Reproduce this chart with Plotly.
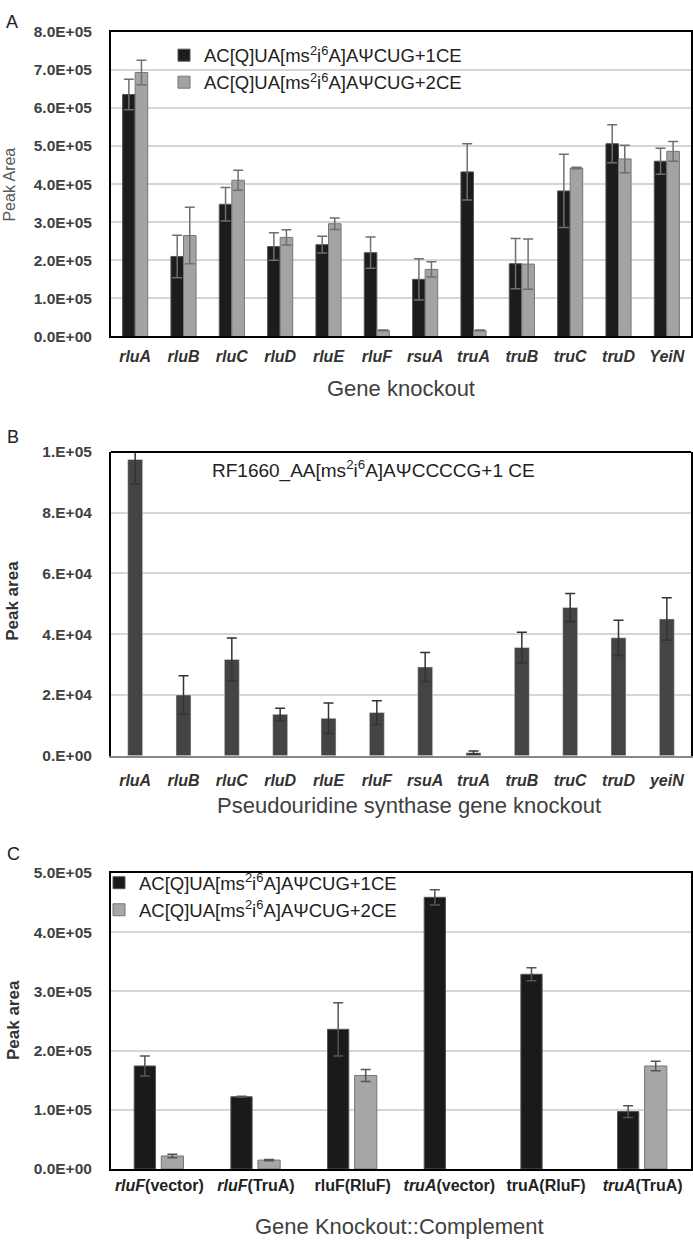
import plotly.graph_objects as go

# ---- panel A: Gene knockout, +1CE / +2CE ----
genes_a = ["rluA", "rluB", "rluC", "rluD", "rluE", "rluF",
           "rsuA", "truA", "truB", "truC", "truD", "YeiN"]
ce1_a = [6.35e5, 2.10e5, 3.47e5, 2.36e5, 2.41e5, 2.20e5,
         1.50e5, 4.32e5, 1.91e5, 3.82e5, 5.06e5, 4.60e5]
ce1_a_err = [0.40e5, 0.56e5, 0.44e5, 0.36e5, 0.22e5, 0.41e5,
             0.54e5, 0.74e5, 0.66e5, 0.96e5, 0.50e5, 0.34e5]
ce2_a = [6.93e5, 2.65e5, 4.10e5, 2.60e5, 2.96e5, 0.16e5,
         1.76e5, 0.16e5, 1.90e5, 4.42e5, 4.66e5, 4.86e5]
ce2_a_err = [0.32e5, 0.74e5, 0.26e5, 0.20e5, 0.15e5, 0.01e5,
             0.20e5, 0.01e5, 0.66e5, 0.02e5, 0.36e5, 0.26e5]
ticks_a = [0, 1e5, 2e5, 3e5, 4e5, 5e5, 6e5, 7e5, 8e5]

# ---- panel B: RF1660 +1 CE ----
genes_b = ["rluA", "rluB", "rluC", "rluD", "rluE", "rluF",
           "rsuA", "truA", "truB", "truC", "truD", "yeiN"]
rf_b = [9.75e4, 2.00e4, 3.17e4, 1.36e4, 1.23e4, 1.42e4,
        2.92e4, 0.10e4, 3.56e4, 4.88e4, 3.88e4, 4.50e4]
rf_b_err = [0.80e4, 0.63e4, 0.70e4, 0.20e4, 0.50e4, 0.39e4,
            0.48e4, 0.05e4, 0.50e4, 0.46e4, 0.58e4, 0.70e4]
ticks_b = [0, 2e4, 4e4, 6e4, 8e4, 1e5]

# ---- panel C: knockout::complement ----
strains_c = ["rluF(vector)", "rluF(TruA)", "rluF(RluF)",
             "truA(vector)", "truA(RluF)", "truA(TruA)"]
labels_c = ["<i>rluF</i>(vector)", "<i>rluF</i>(TruA)", "rluF(RluF)",
            "<i>truA</i>(vector)", "truA(RluF)", "<i>truA</i>(TruA)"]
ce1_c = [1.74e5, 1.22e5, 2.36e5, 4.59e5, 3.29e5, 0.97e5]
ce1_c_err = [0.17e5, 0.01e5, 0.45e5, 0.13e5, 0.11e5, 0.10e5]
ce2_c = [0.22e5, 0.15e5, 1.58e5, None, None, 1.74e5]
ce2_c_err = [0.03e5, 0.01e5, 0.10e5, 0, 0, 0.08e5]
ticks_c = [0, 1e5, 2e5, 3e5, 4e5, 5e5]

name_1ce = "AC[Q]UA[ms<sup>2</sup>i<sup>6</sup>A]AΨCUG+1CE"
name_2ce = "AC[Q]UA[ms<sup>2</sup>i<sup>6</sup>A]AΨCUG+2CE"

W, H = 693, 1247
FONT = "Liberation Sans, Arial, sans-serif"


def sci(v, d):
    s = f"{v:.{d}E}"
    if d == 0:
        s = s.replace("E", ".E")
    return s


def px(x):
    return x / W


def py(y):
    return 1 - y / H


fig = go.Figure()

# panel A
fig.add_trace(go.Bar(x=genes_a, y=ce1_a, name=name_1ce, xaxis="x", yaxis="y",
                     marker=dict(color="#1c1c1c", line=dict(color="#555", width=1)),
                     width=0.26, offset=-0.26,
                     error_y=dict(type="data", array=ce1_a_err, color="#6f6f6f",
                                  thickness=1.5, width=5),
                     legend="legend"))
fig.add_trace(go.Bar(x=genes_a, y=ce2_a, name=name_2ce, xaxis="x", yaxis="y",
                     marker=dict(color="#a3a3a3", line=dict(color="#777", width=1)),
                     width=0.26, offset=0.0,
                     error_y=dict(type="data", array=ce2_a_err, color="#6f6f6f",
                                  thickness=1.5, width=5),
                     legend="legend"))

# panel B
fig.add_trace(go.Bar(x=genes_b, y=rf_b, xaxis="x2", yaxis="y2", showlegend=False,
                     marker=dict(color="#444444"), width=0.31,
                     error_y=dict(type="data", array=rf_b_err, color="#333",
                                  thickness=1.5, width=5)))

# panel C
fig.add_trace(go.Bar(x=strains_c, y=ce1_c, name=name_1ce, xaxis="x3", yaxis="y3",
                     marker=dict(color="#1a1a1a", line=dict(color="#555", width=1)),
                     width=0.22, offset=-0.26,
                     error_y=dict(type="data", array=ce1_c_err, color="#555",
                                  thickness=1.5, width=5),
                     legend="legend2"))
fig.add_trace(go.Bar(x=strains_c, y=ce2_c, name=name_2ce, xaxis="x3", yaxis="y3",
                     marker=dict(color="#a6a6a6", line=dict(color="#777", width=1)),
                     width=0.23, offset=0.02,
                     error_y=dict(type="data", array=ce2_c_err, color="#555",
                                  thickness=1.5, width=5),
                     legend="legend2"))

xdom = [px(111), px(691)]
yfont = dict(family=FONT, size=15.5, color="#404040", weight="bold")
grid = dict(showgrid=True, gridcolor="#d6d6d6", gridwidth=1.5, zeroline=False)

fig.update_layout(
    width=W, height=H, barmode="overlay",
    margin=dict(l=0, r=0, t=0, b=0),
    paper_bgcolor="white", plot_bgcolor="white",
    font=dict(family=FONT, color="#222"),
    xaxis=dict(domain=xdom, anchor="y", showline=True, mirror=True, linecolor="black",
               linewidth=2, tickfont=dict(family=FONT, size=16, color="#333",
                                          weight="bold", style="italic"),
               ticklabelstandoff=4, showgrid=False),
    yaxis=dict(domain=[py(332), py(23)], anchor="x", range=[0, 8e5],
               tickmode="array", tickvals=ticks_a, ticktext=[sci(v, 1) for v in ticks_a],
               showline=True, mirror=True, linecolor="black", linewidth=2,
               tickfont=yfont, ticklabelstandoff=14, **grid),
    xaxis2=dict(domain=xdom, anchor="y2", showline=True, linecolor="#888", linewidth=2,
                tickfont=dict(family=FONT, size=16, color="#333",
                              weight="bold", style="italic"),
                ticklabelstandoff=9, showgrid=False),
    yaxis2=dict(domain=[py(757), py(449)], anchor="x2", range=[0, 1e5],
                tickmode="array", tickvals=ticks_b, ticktext=[sci(v, 0) for v in ticks_b],
                showline=True, mirror=True, linecolor="black", linewidth=2,
                tickfont=yfont, ticklabelstandoff=14, **grid),
    xaxis3=dict(domain=xdom, anchor="y3", showline=True, mirror=True, linecolor="black",
                linewidth=2, tickmode="array", tickvals=strains_c, ticktext=labels_c,
                tickfont=dict(family=FONT, size=16, color="#222", weight="bold"),
                ticklabelstandoff=1, showgrid=False),
    yaxis3=dict(domain=[py(1176), py(876)], anchor="x3", range=[0, 5e5],
                tickmode="array", tickvals=ticks_c, ticktext=[sci(v, 1) for v in ticks_c],
                showline=True, mirror=True, linecolor="black", linewidth=2,
                tickfont=yfont, ticklabelstandoff=14, **grid),
    legend=dict(x=px(164), y=py(28), xanchor="left", yanchor="top",
                font=dict(family=FONT, size=18.5, color="#222"),
                bgcolor="rgba(0,0,0,0)", itemwidth=30),
    legend2=dict(x=px(99), y=py(867), xanchor="left", yanchor="top",
                 font=dict(family=FONT, size=18.5, color="#222"),
                 bgcolor="rgba(0,0,0,0)", itemwidth=30),
)

# top border of panel B
fig.add_shape(type="line", xref="x2 domain", yref="y2 domain", x0=0, x1=1, y0=1, y1=1,
              line=dict(color="black", width=2))

ann = [
    ("A", 12, 13, 18, "#222", 0),
    ("B", 13, 434, 18, "#222", 0),
    ("C", 13, 857, 18, "#222", 0),
    ("Peak Area", 10, 178, 16, "#595959", -90),
    ("<b>Peak area</b>", 13, 600, 17, "#333", -90),
    ("<b>Peak area</b>", 13, 1025, 17, "#333", -90),
    ("Gene knockout", 401, 385, 22, "#404040", 0),
    ("Pseudouridine synthase gene knockout", 409, 808, 22, "#404040", 0),
    ("Gene Knockout::Complement", 399, 1234, 22, "#404040", 0),
]
for text, x, y, size, color, angle in ann:
    fig.add_annotation(text=text, x=px(x), y=py(y), xref="paper", yref="paper",
                       xanchor="center", yanchor="middle", showarrow=False,
                       textangle=angle, font=dict(family=FONT, size=size, color=color))

fig.add_annotation(text="RF1660_AA[ms<sup>2</sup>i<sup>6</sup>A]AΨCCCCG+1 CE",
                   x=px(210), y=py(467), xref="paper", yref="paper",
                   xanchor="left", yanchor="middle", showarrow=False,
                   font=dict(family=FONT, size=19, color="#222"))

fig.write_html("out.html", config={"displayModeBar": False},
               post_script="document.body.style.margin='0';")
